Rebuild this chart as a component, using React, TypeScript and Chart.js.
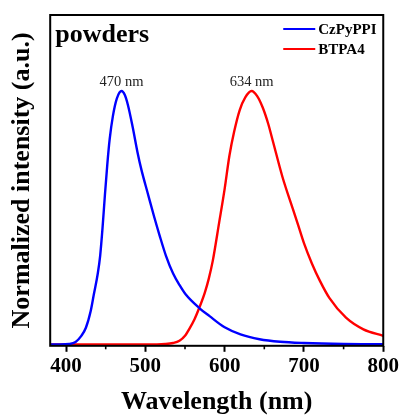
import { useEffect, useRef } from "react";
import { Chart, registerables } from "chart.js";

Chart.register(...registerables);

// Emission spectra of the two powders (normalized PL intensity vs wavelength, nm)
const wavelengthsCzPyPPI = [
  380, 392, 404, 412, 419, 425, 431, 435, 440, 443, 446, 449, 452, 455, 459,
  464, 470, 474, 478, 484, 490, 495, 503, 511, 518, 526, 535, 543, 551, 568,
  581, 600, 620, 644, 670, 700, 750, 800,
];
const intensityCzPyPPI = [
  0, 0, 0.002, 0.01, 0.033, 0.066, 0.131, 0.197, 0.28, 0.35, 0.46, 0.59, 0.71,
  0.81, 0.9, 0.97, 1.0, 0.985, 0.945, 0.858, 0.76, 0.69, 0.597, 0.505, 0.43,
  0.35, 0.28, 0.235, 0.197, 0.144, 0.112, 0.068, 0.04, 0.021, 0.011, 0.006,
  0.002, 0.001,
];
const wavelengthsBTPA4 = [
  380, 500, 525, 535, 543, 550, 556, 562, 568, 575, 580, 585, 593, 600, 606,
  612, 619, 626, 634, 641, 648, 655, 661, 673, 686, 693, 700, 710, 720, 732,
  753, 775, 800,
];
const intensityBTPA4 = [
  0, 0, 0.002, 0.006, 0.015, 0.035, 0.065, 0.1, 0.145, 0.205, 0.26, 0.33,
  0.48, 0.614, 0.745, 0.84, 0.925, 0.975, 1.0, 0.98, 0.935, 0.87, 0.8, 0.66,
  0.535, 0.468, 0.4, 0.32, 0.252, 0.184, 0.106, 0.06, 0.034,
];

const seriesNames = ["CzPyPPI", "BTPA4"];
const seriesColors = ["#0000ff", "#ff0000"];
const peakWavelengths = [470, 634];
const peakIntensity = [1, 1];
const xMajorTicks = [400, 500, 600, 700, 800];
const xMinorTicks = [450, 550, 650, 750];
const sampleLabel = "powders";
const xTitle = "Wavelength (nm)";
const yTitle = "Normalized intensity (a.u.)";

const SERIF = '"Liberation Serif", "Times New Roman", serif';

const toPoints = (xs: number[], ys: number[]) =>
  xs.map((x, i) => ({ x, y: ys[i] }));

// Frame, minor ticks, sample name, legend and peak labels
const decorations = {
  id: "decorations",
  afterDraw(chart: any) {
    const { ctx, chartArea, scales } = chart;
    const xs = scales.x;
    const ys = scales.y;
    ctx.save();

    // minor ticks on the wavelength axis
    ctx.strokeStyle = "#000";
    ctx.lineWidth = 1.6;
    xMinorTicks.forEach((v) => {
      const px = xs.getPixelForValue(v);
      ctx.beginPath();
      ctx.moveTo(px, chartArea.bottom);
      ctx.lineTo(px, chartArea.bottom + 3.5);
      ctx.stroke();
    });

    // frame around the plot area
    ctx.lineWidth = 2;
    ctx.strokeRect(
      chartArea.left,
      chartArea.top,
      chartArea.right - chartArea.left,
      chartArea.bottom - chartArea.top
    );

    // sample label
    ctx.fillStyle = "#000";
    ctx.font = `bold 26px ${SERIF}`;
    ctx.textAlign = "left";
    ctx.textBaseline = "alphabetic";
    ctx.fillText(sampleLabel, chartArea.left + 5, chartArea.top + 27);

    // legend
    ctx.font = `bold 15px ${SERIF}`;
    ctx.textBaseline = "middle";
    chart.data.datasets.forEach((ds: any, i: number) => {
      const y = chartArea.top + 14 + i * 20;
      const x0 = chartArea.right - 100;
      ctx.strokeStyle = ds.borderColor;
      ctx.lineWidth = 2.2;
      ctx.beginPath();
      ctx.moveTo(x0, y);
      ctx.lineTo(x0 + 32, y);
      ctx.stroke();
      ctx.fillStyle = "#000";
      ctx.fillText(ds.label, x0 + 35, y + 1);
    });

    // peak labels
    ctx.font = `14.5px ${SERIF}`;
    ctx.textAlign = "center";
    ctx.textBaseline = "alphabetic";
    ctx.fillStyle = "#222";
    peakWavelengths.forEach((w, i) => {
      const px = xs.getPixelForValue(w);
      const py = ys.getPixelForValue(peakIntensity[i]);
      ctx.fillText(`${w} nm`, px, py - 5);
    });

    ctx.restore();
  },
};

export default function App() {
  const canvasRef = useRef<HTMLCanvasElement | null>(null);

  useEffect(() => {
    if (!canvasRef.current) return;
    const chart = new Chart(canvasRef.current, {
      type: "line",
      data: {
        datasets: [
          {
            label: seriesNames[0],
            data: toPoints(wavelengthsCzPyPPI, intensityCzPyPPI),
            borderColor: seriesColors[0],
            borderWidth: 2.4,
            pointRadius: 0,
            cubicInterpolationMode: "monotone",
          },
          {
            label: seriesNames[1],
            data: toPoints(wavelengthsBTPA4, intensityBTPA4),
            borderColor: seriesColors[1],
            borderWidth: 2.4,
            pointRadius: 0,
            cubicInterpolationMode: "monotone",
          },
        ],
      },
      options: {
        animation: false,
        responsive: false,
        devicePixelRatio: 1,
        layout: { padding: { top: 15, right: 17, bottom: 0, left: 5 } },
        plugins: {
          legend: { display: false },
          tooltip: { enabled: false },
        },
        scales: {
          x: {
            type: "linear",
            min: 380,
            max: 800,
            afterBuildTicks: (scale: any) => {
              scale.ticks = xMajorTicks.map((value) => ({ value }));
            },
            ticks: {
              padding: 2,
              color: "#000",
              font: { family: SERIF, size: 21, weight: "bold", lineHeight: 1.2 },
              maxRotation: 0,
            },
            grid: {
              drawOnChartArea: false,
              drawTicks: true,
              tickLength: 6,
              tickWidth: 2,
              tickColor: "#000",
            },
            border: { display: false },
            title: {
              display: true,
              text: xTitle,
              color: "#000",
              font: { family: SERIF, size: 26, weight: "bold", lineHeight: 1 },
              padding: { top: 8, bottom: 0 },
            },
          },
          y: {
            min: -0.005,
            max: 1.3,
            ticks: { display: false },
            grid: { display: false, drawTicks: false },
            border: { display: false },
            title: {
              display: true,
              text: yTitle,
              color: "#000",
              font: { family: SERIF, size: 26, weight: "bold", lineHeight: 1.2 },
              padding: { top: 2, bottom: 12 },
            },
          },
        },
      },
      plugins: [decorations],
    } as any);
    return () => chart.destroy();
  }, []);

  return (
    <div
      style={{
        position: "fixed",
        left: 0,
        top: 0,
        width: 401,
        height: 415,
        background: "#fff",
      }}
    >
      <canvas ref={canvasRef} width={401} height={415} />
    </div>
  );
}
